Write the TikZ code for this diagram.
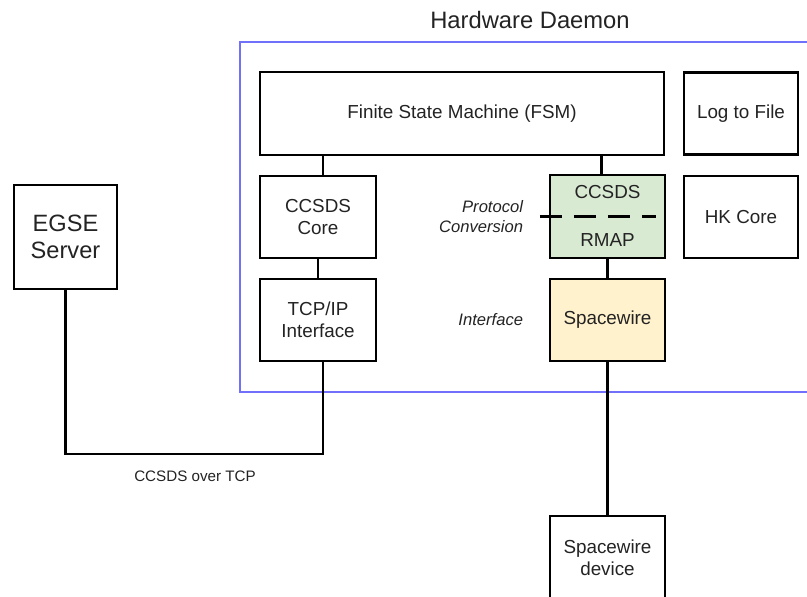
\documentclass[tikz,border=0pt]{standalone}
\usepackage{fontspec}
\setmainfont{Liberation Sans}
\usetikzlibrary{calc}

\definecolor{daemonblue}{RGB}{112,112,250}
\definecolor{convgreen}{RGB}{217,234,211}
\definecolor{ifyellow}{RGB}{255,242,204}
\definecolor{txtgray}{RGB}{35,35,35}

\begin{document}
\begin{tikzpicture}[font=\fontsize{13.4}{16}\selectfont, text=txtgray]
  %----- styles
  \tikzset{
    block/.style ={draw=black,line width=1.5pt,minimum width=2.9cm,minimum height=2.05cm,align=center},
    wide/.style  ={block,minimum width=10.1cm,minimum height=2.075cm},
    side/.style  ={block,minimum width=2.85cm},
    ital/.style  ={font=\fontsize{11.8}{14.5}\selectfont\itshape,align=right,anchor=east},
    wire/.style  ={line width=1.5pt}
  }
  \useasboundingbox (0,0) rectangle (20.175,-14.925);

  %----- daemon frame and title
  \draw[daemonblue,line width=1.2pt] (6.0,-1.05) rectangle (20.6,-9.8);
  \node[font=\fontsize{16.9}{20}\selectfont] (title) at (13.25,-0.5) {Hardware Daemon};

  %----- nodes
  % top row
  \node[wide] (fsm) at (11.55,-2.8375) {Finite State Machine (FSM)};
  \node[side] (log) at (18.525,-2.8375) {Log to File};
  % left stack
  \node[block] (core) at (7.95,-5.425) {CCSDS\\Core};
  \node[block] (tcp)  at (7.95,-8.0)   {TCP/IP\\Interface};
  % right stack
  \node[block,fill=convgreen,minimum width=2.875cm,minimum height=2.075cm] (rmap) at (15.1875,-5.4125) {};
  \node (rmaptop) at ($(rmap.center)+(0,0.6)$)  {CCSDS};
  \node (rmapbot) at ($(rmap.center)+(0,-0.6)$) {RMAP};
  \node[block,fill=ifyellow,minimum width=2.875cm] (spw) at (15.1875,-8.0) {Spacewire};
  \node[side] (hk) at (18.525,-5.425) {HK Core};
  % outside the daemon
  \node[block,minimum width=2.575cm,minimum height=2.6cm,font=\fontsize{16.8}{19.5}\selectfont] (egse) at (1.6375,-5.925) {EGSE\\Server};
  \node[block,minimum width=2.875cm,minimum height=2.1cm] (dev) at (15.1875,-13.95) {Spacewire\\device};

  % side labels
  \node[ital] (conv) at (13.2,-5.41) {Protocol\\Conversion};
  \node[ital] (iface) at (13.2,-8.0) {Interface};

  %----- connections
  \coordinate (corein) at ($(core.north)+(0.125,0)$);
  \coordinate (rmapin) at ($(rmap.north)+(-0.15,0)$);
  \coordinate (tcpout) at ($(tcp.south)+(0.125,0)$);
  \draw[wire] (corein) -- (corein |- fsm.south);
  \draw[wire] (core.south) -- (tcp.north);
  \draw[wire] (rmapin) -- (rmapin |- fsm.south);
  \draw[wire] (rmap.south) -- (spw.north);
  \draw[wire] (spw.south) -- (dev.north);

  % protocol split line
  \draw[wire,dash pattern=on 0.55cm off 0.3cm] ($(rmap.west)+(-0.225,0)$) -- ($(rmap.east)+(-0.25,0)$);

  % link from the server
  \coordinate (bus) at (0,-11.35);
  \draw[wire] (egse.south) -- (egse.south |- bus) -| (tcpout);
  \node[font=\fontsize{10.8}{13}\selectfont] (buslbl) at (4.875,-11.9) {CCSDS over TCP};
\end{tikzpicture}
\end{document}
